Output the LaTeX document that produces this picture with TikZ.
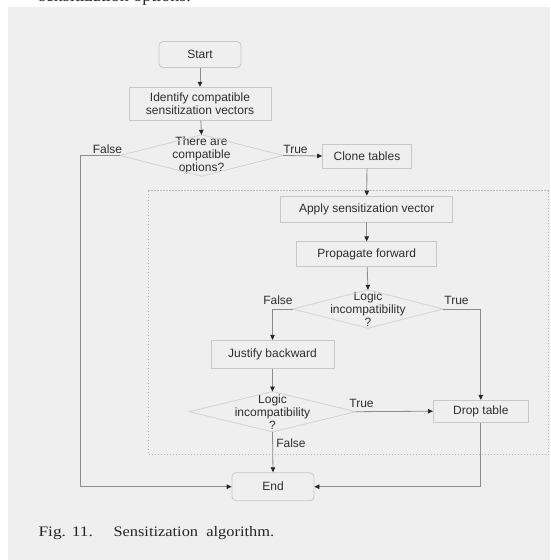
\documentclass[tikz,border=0pt]{standalone}
\usepackage{fontspec}
\setmainfont{Liberation Sans}
\newfontfamily\capfont{Liberation Serif}
\usetikzlibrary{arrows.meta}
\definecolor{panel}{HTML}{EFEFEF}
\definecolor{boxline}{HTML}{C8C8C8}
\definecolor{dialine}{HTML}{D2D2D2}
\definecolor{connline}{HTML}{8C8C8C}
\definecolor{txt}{HTML}{2E2E2E}
\tikzset{
  boxnode/.style={draw=boxline, line width=0.8pt, fill=panel, inner sep=0pt, align=center, text=txt, font=\fontsize{12}{13}\selectfont},
  roundbox/.style={boxnode, rounded corners=4pt},
  decnode/.style={inner sep=0pt, align=center, text=txt, font=\fontsize{12}{13}\selectfont},
  conn/.style={draw=connline, line width=0.8pt, -{Triangle[length=5pt,width=4.5pt,color=black!85]}},
  lbl/.style={text=txt, font=\fontsize{12}{13}\selectfont, inner sep=0pt},
  loopframe/.style={draw=black!28, line width=0.7pt, dash pattern=on 1.2pt off 1.8pt}
}
\begin{document}
\begin{tikzpicture}[x=1pt,y=-1pt]
\useasboundingbox (0,0) rectangle (550,560);
\fill[panel] (8,7) rectangle (550,560);
% cut-off text at top (only its lowest part shows above the panel)
\begin{scope}
\clip (0,0) rectangle (550,7);
\node[anchor=base west, inner sep=0pt, font=\capfont\fontsize{18}{20}\selectfont, text=black!85] (toptext) at (38.6,1.2) {sensitization options.};
\end{scope}
% loop frame
\draw[loopframe] (148.3,190.7) rectangle (548.3,454.3);
% nodes
\node[roundbox, minimum width=82pt, minimum height=26pt] (start) at (200,54.5) {Start};
\node[boxnode, minimum width=142pt, minimum height=33pt] (ident) at (200,103.7) {Identify compatible\\sensitization vectors};
\node[decnode, minimum width=163pt, minimum height=41pt] (dec1) at (201.5,155.5) {There are\\compatible\\options?};
\node[boxnode, minimum width=89pt, minimum height=24pt] (clone) at (367,156) {Clone tables};
\node[boxnode, minimum width=172pt, minimum height=26pt] (apply) at (366.7,209) {Apply sensitization vector};
\node[boxnode, minimum width=140pt, minimum height=25pt] (prop) at (366.7,254.3) {Propagate forward};
\node[decnode, minimum width=150pt, minimum height=38pt] (dec2) at (368,309) {Logic\\incompatibility\\?};
\node[boxnode, minimum width=123pt, minimum height=28pt] (justify) at (272.5,354.3) {Justify backward};
\node[decnode, minimum width=166pt, minimum height=40pt] (dec3) at (272.5,411.7) {Logic\\incompatibility\\?};
\node[boxnode, minimum width=95pt, minimum height=22pt] (drop) at (480.8,411.2) {Drop table};
\node[roundbox, minimum width=82pt, minimum height=28pt] (end) at (273,486.7) {End};
% diamonds
\foreach \d in {dec1,dec2,dec3}
  \draw[draw=dialine, line width=0.8pt] (\d.west) -- (\d.north) -- (\d.east) -- (\d.south) -- cycle;
% connectors
\draw[conn] (start) -- (ident);
\draw[conn] (ident) -- (dec1.north);
\draw[conn] (dec1.west) -- ++(-39.8,0) |- (end.west);
\draw[conn] (dec1.east) -- (clone.west);
\draw[conn] (clone) -- (apply);
\draw[conn] (apply) -- (prop);
\draw[conn] (prop) -- (dec2.north);
\draw[conn] (dec2.west) -| (justify.north);
\draw[conn] (dec2.east) -| (drop.north);
\draw[conn] (justify) -- (dec3.north);
\draw[conn] (dec3.east) -- (drop.west);
\draw[conn] (dec3.south) -- (end.north);
\draw[conn] (drop.south) |- (end.east);
% labels
\node[lbl] (f1) at (107.5,149.5) {False};
\node[lbl] (t1) at (295.5,149.5) {True};
\node[lbl] (f2) at (278,300.5) {False};
\node[lbl] (t2) at (456.5,300.5) {True};
\node[lbl] (t3) at (361.5,403) {True};
\node[lbl] (f3) at (291,443.5) {False};
% caption
\node[anchor=base west, inner sep=0pt, text=black!85, font=\capfont\fontsize{14.5}{16}\selectfont] (capA) at (38.3,536) {\scalebox{1.2}[1]{Fig. 11.}};
\node[anchor=base west, inner sep=0pt, text=black!85, font=\capfont\fontsize{14.5}{16}\selectfont] (capB) at (113.3,536) {\scalebox{1.13}[1]{Sensitization\ \ algorithm.}};
\end{tikzpicture}
\end{document}
